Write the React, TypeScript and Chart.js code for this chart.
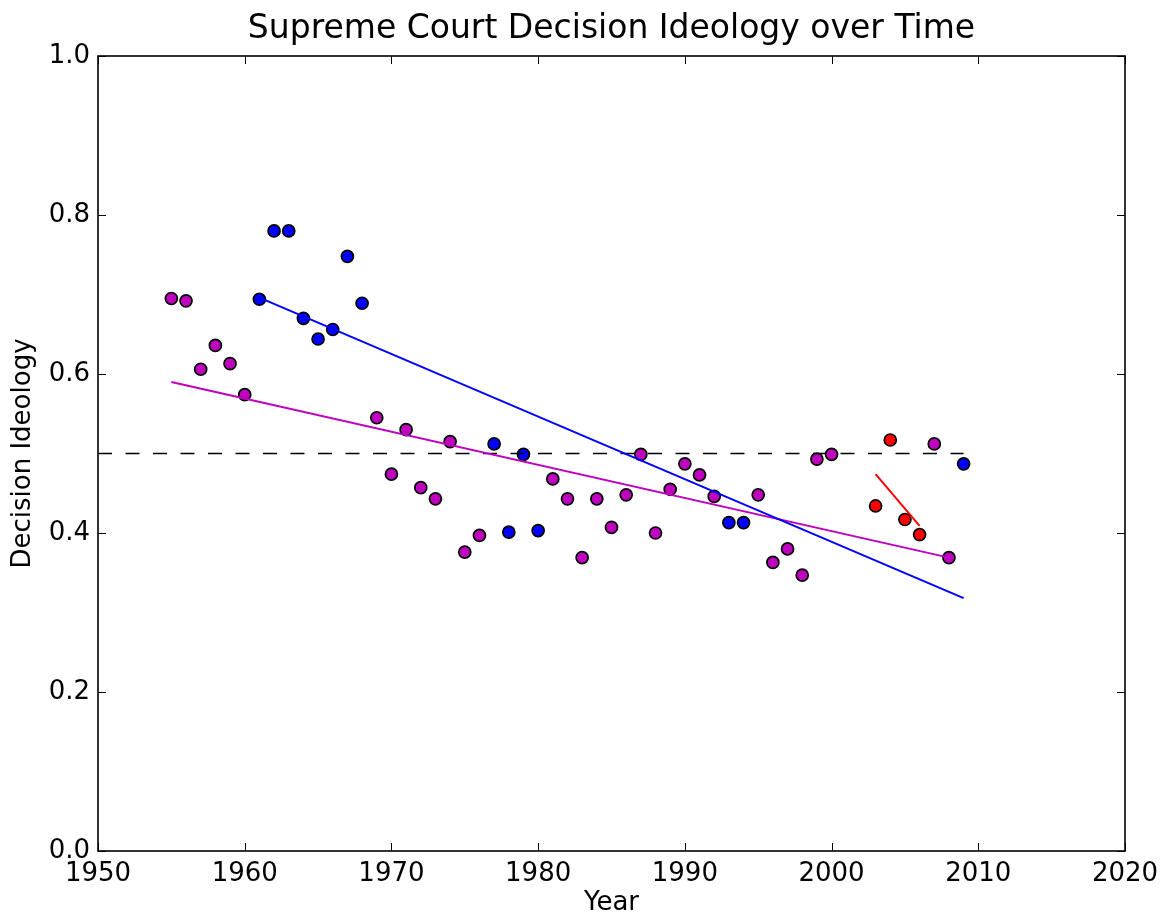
import React, { useEffect, useRef } from 'react';
import { Chart, registerables } from 'chart.js';

Chart.register(...registerables);

// ---- data ----
const chartTitle = 'Supreme Court Decision Ideology over Time';

const purpleYears = [1955, 1956, 1957, 1958, 1959, 1960, 1969, 1970, 1971, 1972, 1973, 1974, 1975, 1976, 1981, 1982, 1983, 1984, 1985, 1986, 1987, 1988, 1989, 1990, 1991, 1992, 1995, 1996, 1997, 1998, 1999, 2000, 2007, 2008];
const purpleValues = [0.695, 0.692, 0.606, 0.636, 0.613, 0.574, 0.545, 0.474, 0.530, 0.457, 0.443, 0.515, 0.376, 0.397, 0.468, 0.443, 0.369, 0.443, 0.407, 0.448, 0.499, 0.400, 0.455, 0.487, 0.473, 0.446, 0.448, 0.363, 0.380, 0.347, 0.493, 0.499, 0.512, 0.369];

const blueYears = [1961, 1962, 1963, 1964, 1965, 1966, 1967, 1968, 1977, 1978, 1979, 1980, 1993, 1994, 2009];
const blueValues = [0.694, 0.780, 0.780, 0.670, 0.644, 0.656, 0.748, 0.689, 0.512, 0.401, 0.499, 0.403, 0.413, 0.413, 0.487];

const redYears = [2003, 2004, 2005, 2006];
const redValues = [0.434, 0.517, 0.417, 0.398];

// fitted trend lines (endpoints)
const purpleTrendYears = [1955, 2008];
const purpleTrendValues = [0.590, 0.369];
const blueTrendYears = [1961, 2009];
const blueTrendValues = [0.696, 0.318];
const redTrendYears = [2003, 2006];
const redTrendValues = [0.474, 0.409];

// neutral reference line
const neutralYears = [1950, 2009];
const neutralValues = [0.5, 0.5];

const xTicks = [1950, 1960, 1970, 1980, 1990, 2000, 2010, 2020];
const yTicks = [0.0, 0.2, 0.4, 0.6, 0.8, 1.0];

const PURPLE = '#bf00bf';
const BLUE = '#0000ff';
const RED = '#ff0000';
const FONT = "'DejaVu Sans', sans-serif";

const toPts = (xs: number[], ys: number[]) => xs.map((x, i) => ({ x, y: ys[i] }));

const framePlugin = {
  id: 'mplFrame',
  afterDatasetsDraw(chart: any) {
    const { ctx, chartArea, scales } = chart;
    const { left, right, top, bottom } = chartArea;
    const L = 8;
    ctx.save();
    ctx.strokeStyle = '#000';
    ctx.lineWidth = 1;
    ctx.beginPath();
    xTicks.forEach((v) => {
      const px = Math.round(scales.x.getPixelForValue(v)) + 0.5;
      ctx.moveTo(px, bottom);
      ctx.lineTo(px, bottom - L);
      ctx.moveTo(px, top);
      ctx.lineTo(px, top + L);
    });
    yTicks.forEach((v) => {
      const py = Math.round(scales.y.getPixelForValue(v)) + 0.5;
      ctx.moveTo(left, py);
      ctx.lineTo(left + L, py);
      ctx.moveTo(right, py);
      ctx.lineTo(right - L, py);
    });
    ctx.stroke();
    ctx.lineWidth = 1.6;
    ctx.strokeRect(left, top, right - left, bottom - top);
    // title centred over the axes, as matplotlib does
    ctx.fillStyle = '#000';
    ctx.font = `33px ${FONT}`;
    ctx.textAlign = 'center';
    ctx.textBaseline = 'alphabetic';
    ctx.fillText(chartTitle, (left + right) / 2, 38);
    ctx.restore();
  },
};

export default function App() {
  const canvasRef = useRef<HTMLCanvasElement | null>(null);

  useEffect(() => {
    document.body.style.margin = '0';
    const canvas = canvasRef.current;
    if (!canvas) return;
    Chart.defaults.font.family = FONT;
    Chart.defaults.color = '#000';

    const pointDs = (label: string, xs: number[], ys: number[], color: string) => ({
      label,
      data: toPts(xs, ys),
      backgroundColor: color,
      borderColor: '#000',
      borderWidth: 1.7,
      pointRadius: 6,
      pointHoverRadius: 6,
      showLine: false,
    });
    const lineDs = (label: string, xs: number[], ys: number[], color: string, width: number, dash: number[] = []) => ({
      label,
      data: toPts(xs, ys),
      borderColor: color,
      backgroundColor: color,
      borderWidth: width,
      borderDash: dash,
      pointRadius: 0,
      pointHoverRadius: 0,
      showLine: true,
      fill: false,
    });

    const chart = new Chart(canvas, {
      type: 'scatter',
      data: {
        datasets: [
          lineDs('Red trend', redTrendYears, redTrendValues, RED, 2),
          lineDs('Blue trend', blueTrendYears, blueTrendValues, BLUE, 2),
          lineDs('Purple trend', purpleTrendYears, purpleTrendValues, PURPLE, 2),
          lineDs('Neutral', neutralYears, neutralValues, '#000', 1.5, [14, 13.5]),
          pointDs('Red', redYears, redValues, RED),
          pointDs('Blue', blueYears, blueValues, BLUE),
          pointDs('Purple', purpleYears, purpleValues, PURPLE),
        ] as any,
      },
      options: {
        responsive: false,
        animation: false,
        layout: { padding: { left: 0, right: 44, top: 56, bottom: 0 } },
        plugins: {
          legend: { display: false },
          tooltip: { enabled: false },
          title: { display: false },
        },
        scales: {
          x: {
            type: 'linear',
            min: 1950,
            max: 2020,
            afterBuildTicks: (s: any) => {
              s.ticks = xTicks.map((v) => ({ value: v }));
            },
            afterFit: (s: any) => {
              s.height = 68;
            },
            ticks: {
              callback: (v: any) => String(v),
              font: { size: 26 },
              color: '#000',
              padding: 8,
              maxRotation: 0,
              autoSkip: false,
            },
            grid: { display: false, drawTicks: false },
            border: { display: false },
            title: {
              display: true,
              text: 'Year',
              color: '#000',
              font: { size: 26 },
              padding: { top: 0, bottom: 0 },
            },
          },
          y: {
            type: 'linear',
            min: 0,
            max: 1,
            afterBuildTicks: (s: any) => {
              s.ticks = yTicks.map((v) => ({ value: v }));
            },
            afterFit: (s: any) => {
              s.width = 98;
            },
            ticks: {
              callback: (v: any) => Number(v).toFixed(1),
              font: { size: 26 },
              color: '#000',
              padding: 8,
              autoSkip: false,
            },
            grid: { display: false, drawTicks: false },
            border: { display: false },
            title: {
              display: true,
              text: 'Decision Ideology',
              color: '#000',
              font: { size: 26 },
              padding: { top: 8, bottom: 0 },
            },
          },
        },
      } as any,
      plugins: [framePlugin],
    });

    return () => chart.destroy();
  }, []);

  return (
    <div style={{ width: 1169, height: 919, background: '#fff' }}>
      <canvas ref={canvasRef} width={1169} height={919} style={{ display: 'block' }} />
    </div>
  );
}
